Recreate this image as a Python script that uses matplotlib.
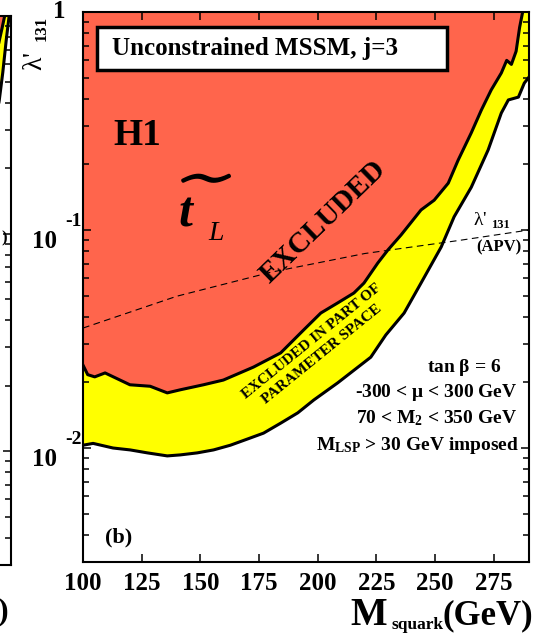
import matplotlib
matplotlib.use("Agg")
import matplotlib.pyplot as plt
from matplotlib.patches import Rectangle
from matplotlib import patheffects as pe
import numpy as np

plt.rcParams['font.family'] = ['Liberation Serif', 'DejaVu Serif']
plt.rcParams['font.weight'] = 'bold'
plt.rcParams['mathtext.fontset'] = 'custom'
plt.rcParams['mathtext.rm'] = 'Liberation Serif:bold'
plt.rcParams['mathtext.bf'] = 'Liberation Serif:bold'
plt.rcParams['mathtext.it'] = 'Liberation Serif:italic:bold'

RED = '#ff654c'
YEL = '#ffff00'

# fully excluded region (red) : upper side of this curve
msq_red = [100, 102, 105, 109.4, 120, 128.6, 135.9, 141.5, 151.3, 159.8, 172.6, 184.2,
           194, 201.3, 208.5, 215.4, 219.7, 225.6, 229.9, 235.5, 244, 249.6, 255.6,
           259.8, 265.4, 269.7, 273.9, 278.2, 280.5, 282.5, 284.5, 286, 287.3]
lam_red = [0.0240, 0.0217, 0.0212, 0.0221, 0.0195, 0.0192, 0.0179, 0.0185, 0.0195, 0.0205,
           0.0235, 0.0273, 0.0348, 0.0416, 0.0463, 0.0514, 0.0571, 0.0706, 0.081, 0.0949,
           0.1236, 0.137, 0.164, 0.209, 0.279, 0.355, 0.439, 0.525, 0.60, 0.575, 0.66,
           0.85, 1.0]

# excluded in part of parameter space (yellow)
msq_yel = [100, 104.3, 112.8, 120.1, 127.4, 135.9, 141.5, 148.7, 155.6, 162.8, 170.1,
           176.9, 184.2, 191.5, 198.3, 208.5, 222.6, 229, 236.8, 244, 252.6, 258.1,
           265.4, 272.6, 278.2, 281.2, 285.5, 288, 290]
lam_yel = [0.0103, 0.0105, 0.0100, 0.0098, 0.0095, 0.0092, 0.0093, 0.0095, 0.0098, 0.0103,
           0.0110, 0.0117, 0.0130, 0.0145, 0.0166, 0.0199, 0.0261, 0.0330, 0.0416, 0.0571,
           0.0836, 0.115, 0.157, 0.233, 0.344, 0.395, 0.407, 0.472, 0.503]

# APV bound
apv_m = [100, 140, 180, 220, 260, 290]
apv_lam = [0.0355, 0.0497, 0.064, 0.078, 0.0895, 0.100]

# piece of the neighbouring panel (a)
frag_m_red = [283, 285, 286.2, 287.3]
frag_lam_red = [0.6, 0.77, 0.88, 1.0]
frag_m_yel = [283, 285, 286.5, 288, 289.2]
frag_lam_yel = [0.3, 0.41, 0.55, 0.78, 1.0]

xticks = [100, 125, 150, 175, 200, 225, 250, 275]
ydecades = [1e-2, 1e-1]
ydec_labels = ['-2', '-1']

fig = plt.figure(figsize=(5.4, 6.33), dpi=100)

# ---- fragment of panel (a) on the far left
axa = fig.add_axes([(11 - 446) / 540, 1 - 565 / 633, 446 / 540, 549 / 633])
axa.fill_between(frag_m_yel, frag_lam_yel, 1.0, color=YEL, lw=0)
axa.fill_between(frag_m_red, frag_lam_red, 1.0, color=RED, lw=0)
axa.plot(frag_m_yel, frag_lam_yel, color='k', lw=2.2)
axa.plot(frag_m_red, frag_lam_red, color='k', lw=2.2)
axa.set_xlim(100, 290)
axa.set_yscale('log')
axa.set_ylim(3e-3, 1)
axa.tick_params(which='both', direction='in', right=True, left=False, top=False,
                bottom=False, labelleft=False, labelbottom=False, width=1.1)
axa.tick_params(which='major', length=6)
axa.tick_params(which='minor', length=4)
for s in axa.spines.values():
    s.set_linewidth(1.5)

# ---- main panel (b)
ax = fig.add_axes([83 / 540, 1 - 562 / 633, 446 / 540, 550 / 633])
ax.fill_between(msq_yel, lam_yel, 1.0, color=YEL, lw=0)
ax.fill_between(msq_red, lam_red, 1.0, color=RED, lw=0)
ax.plot(msq_yel, lam_yel, color='k', lw=2.2)
ax.plot(msq_red, lam_red, color='k', lw=2.2)
ax.plot(apv_m, apv_lam, color='k', lw=0.8, dashes=(6, 4))

ax.set_xlim(100, 290)
ax.set_yscale('log')
ax.set_ylim(3e-3, 1)
ax.set_xticks(xticks)
ax.set_xticklabels([str(t) for t in xticks], fontsize=18, fontweight='bold')
ax.set_yticks([1e-2, 1e-1, 1])
ax.set_yticklabels(['', '', ''])
ax.tick_params(which='both', direction='in', top=True, right=True, width=1.1)
ax.tick_params(which='major', length=6, pad=7)
ax.tick_params(which='minor', length=4)
for s in ax.spines.values():
    s.set_linewidth(1.5)

# y tick labels: "10" with superscript exponent
tr = ax.get_yaxis_transform()
for v, e in zip(ydecades, ydec_labels):
    ax.text(-0.058, v, '10', transform=tr, ha='right', va='top', fontsize=18,
            fontweight='bold')
    ax.text(-0.003, v, e, transform=tr, ha='right', va='bottom', fontsize=14,
            fontweight='bold')
ax.text(-0.04, 1.0, '1', transform=tr, ha='right', va='center', fontsize=18,
        fontweight='bold')

# y label (rotated lambda' with subscript 131)
fig.text(36 / 540, 1 - 61 / 633, r"$\mathregular{\lambda}$'", rotation=90, ha='center',
         va='center', fontsize=20, fontweight='normal')
fig.text(42 / 540, 1 - 28 / 633, '131', rotation=90, ha='center', va='center',
         fontsize=12, fontweight='bold')

# x label
fig.text(350 / 540, 1 - 625 / 633, 'M', ha='left', va='baseline', fontsize=28,
         fontweight='bold')
fig.text(391 / 540, 1 - 629 / 633, 'squark', ha='left', va='baseline', fontsize=12.5,
         fontweight='bold')
fig.text(533 / 540, 1 - 624 / 633, '(GeV)', ha='right', va='baseline', fontsize=25,
         fontweight='bold')

# leftovers of panel (a) text
fig.text(7 / 540, 1 - 238 / 633, ')', ha='right', va='center', fontsize=12)
fig.text(9 / 540, 1 - 612 / 633, ')', ha='right', va='center', fontsize=23)

# title box
ax.add_patch(Rectangle((0.031, 0.895), 0.785, 0.078, transform=ax.transAxes,
                       facecolor='white', edgecolor='k', lw=2.5, zorder=5))
ax.text(0.066, 0.934, 'Unconstrained MSSM, j=3', transform=ax.transAxes, ha='left',
        va='center', fontsize=18, fontweight='bold', zorder=6)

# region labels
ax.text(112.8, 0.245, 'H1', fontsize=27, fontweight='bold', ha='left', va='baseline')
ax.text(140.3, 0.1054, r'$\mathit{t}$', fontsize=36, ha='left', va='baseline')
ax.text(151.5, 0.176, r'$\widetilde{\quad\;}$', fontsize=34, ha='center',
        va='center', path_effects=[pe.withStroke(linewidth=2.2, foreground='k')])
ax.text(153.4, 0.090, 'L', fontsize=20, style='italic', fontweight='normal',
        ha='left', va='baseline')
ax.text(202.1, 0.109, 'EXCLUDED', fontsize=21, fontweight='bold', rotation=44,
        ha='center', va='center', rotation_mode='anchor')
ax.text(199.6, 0.0288, 'EXCLUDED IN PART OF\nPARAMETER SPACE', fontsize=11,
        fontweight='bold', rotation=39, ha='center', va='center',
        rotation_mode='anchor', multialignment='center', linespacing=1.25)

# APV label
ax.text(266.2, 0.1054, r"$\mathregular{\lambda}$'", fontsize=14, fontweight='normal',
        ha='left', va='baseline')
ax.text(273.9, 0.102, '131', fontsize=9, fontweight='bold', ha='left', va='baseline')
ax.text(287.0, 0.080, '(APV)', fontsize=12, fontweight='bold', ha='right',
        va='baseline')

# parameters
ax.text(262.2, 0.02233, r'tan $\mathregular{\beta}$ = 6', fontsize=14,
        fontweight='bold', ha='center', va='baseline')
ax.text(285.0, 0.01714, r'-300 < $\mathregular{\mu}$ < 300 GeV', fontsize=14,
        fontweight='bold', ha='right', va='baseline')
ax.text(285.0, 0.01302, r'70 < M$_{\mathregular{2}}$ < 350 GeV', fontsize=14,
        fontweight='bold', ha='right', va='baseline')
ax.text(286.0, 0.00980, r'M$_{\mathregular{LSP}}$ > 30 GeV imposed', fontsize=14,
        fontweight='bold', ha='right', va='baseline')

ax.text(109.4, 0.00367, '(b)', fontsize=16, fontweight='bold', ha='left',
        va='baseline')

fig.savefig('out.png', dpi=100)
